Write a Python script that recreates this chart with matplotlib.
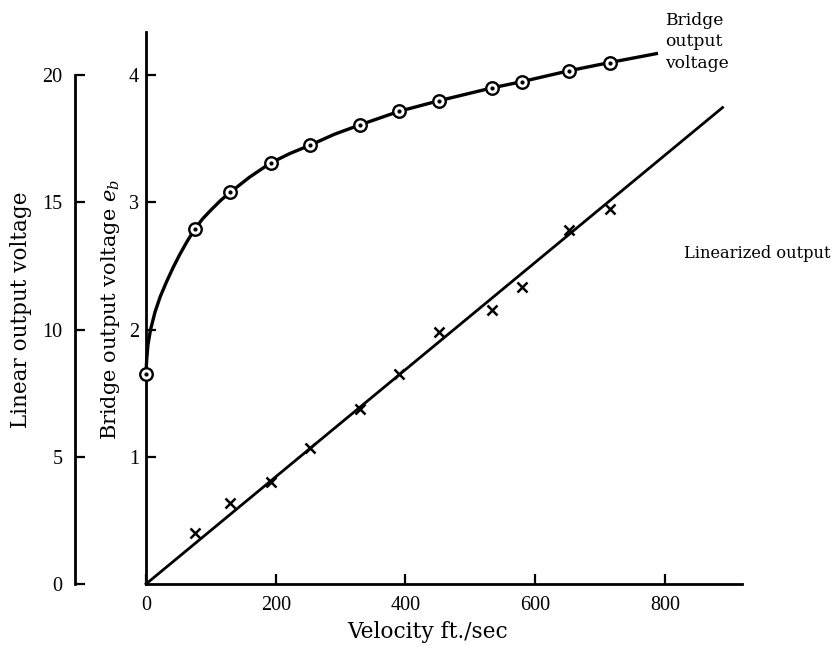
import matplotlib.pyplot as plt
import numpy as np

plt.rcParams['font.family'] = ['DejaVu Serif']
plt.rcParams['mathtext.fontset'] = 'dejavuserif'

# velocities at which the probe was read (ft/sec)
velocity = [0, 75, 130, 192, 253, 330, 390, 452, 533, 580, 652, 715]
# bridge output voltage e_b (circles)
bridge_v = [1.655, 2.79, 3.08, 3.31, 3.45, 3.61, 3.716, 3.80, 3.90, 3.95, 4.035, 4.10]

# smooth bridge curve
curve_vel = [0, 1, 3, 7, 14, 22, 32, 42, 52, 63, 75, 88, 102, 116, 130, 160, 192, 222,
             253, 290, 330, 390, 452, 533, 580, 652, 715, 787]
curve_e = [1.655, 1.76, 1.88, 2.0, 2.14, 2.26, 2.38, 2.49, 2.59, 2.69, 2.79, 2.875, 2.95,
           3.02, 3.08, 3.20, 3.31, 3.385, 3.45, 3.535, 3.61, 3.716, 3.80, 3.90, 3.95,
           4.035, 4.10, 4.17]

# linearized output (crosses), in linear output voltage units
lin_vel = [75, 130, 192, 253, 330, 390, 452, 533, 580, 652, 715]
lin_out = [1.99, 3.17, 4.02, 5.35, 6.86, 8.25, 9.91, 10.76, 11.68, 13.9, 14.76]
fit_vel = [0, 889]
fit_out = [0, 18.73]

x_ticks = [0, 200, 400, 600, 800]
bridge_ticks = [1, 2, 3, 4]
linear_ticks = [0, 5, 10, 15, 20]

fig = plt.figure(figsize=(8.36, 6.47), dpi=100)
ax = fig.add_axes([146 / 836, 63 / 647, 596 / 836, 552 / 647])
ax.set_xlim(0, 919)
ax.set_ylim(0, 4.34)

# second (linear output) scale on the far left, 5x the bridge scale
ax2 = ax.twinx()
ax2.set_ylim(0, 4.34 * 5)
ax2.yaxis.set_ticks_position('left')
ax2.yaxis.set_label_position('left')
ax2.spines['left'].set_position(('axes', -0.119))
ax2.spines['left'].set_bounds(0, 20)
for s in ['right', 'top', 'bottom']:
    ax2.spines[s].set_visible(False)
for s in ['right', 'top']:
    ax.spines[s].set_visible(False)
for sp in [ax.spines['left'], ax.spines['bottom'], ax2.spines['left']]:
    sp.set_linewidth(2.0)

ax.set_xticks(x_ticks)
ax.set_yticks(bridge_ticks)
ax2.set_yticks(linear_ticks)
tick_font = 'Liberation Serif'
ax.tick_params(axis='x', direction='in', length=7, width=1.6, pad=9, labelsize=14.5,
               labelfontfamily=tick_font)
ax.tick_params(axis='y', direction='in', length=7, width=1.6, pad=5, labelsize=14.5,
               labelfontfamily=tick_font)
ax2.tick_params(axis='y', direction='in', length=7, width=1.6, pad=9, labelsize=14.5,
                labelfontfamily=tick_font)

ax.plot(curve_vel, curve_e, color='black', lw=2.4, clip_on=False, zorder=3)
ax.plot(velocity, bridge_v, 'o', ms=9, mfc='white', mec='black', mew=1.7, clip_on=False, zorder=4)
ax.plot(velocity, bridge_v, 'o', ms=2, color='black', clip_on=False, zorder=5)

ax2.plot(fit_vel, fit_out, color='black', lw=2.0, clip_on=False, zorder=3)
ax2.plot(lin_vel, lin_out, 'x', ms=7, color='black', mew=1.8, zorder=4)

ax.set_xlabel('Velocity ft./sec', fontsize=15.6)
ax.xaxis.set_label_coords(0.473, -0.067)
ax.set_ylabel('Bridge output voltage $e_b$', fontsize=15)
ax.yaxis.set_label_coords((122 - 146) / 596, (584 - 310) / 552)
ax2.set_ylabel('Linear output voltage', fontsize=15.5)
ax2.yaxis.set_label_coords((32 - 146) / 596, (584 - 310) / 552)

fig.text(665 / 836, 1 - 42 / 647, 'Bridge\noutput\nvoltage', fontsize=12.3, ha='left', va='center',
         linespacing=1.35)
fig.text(684 / 836, 1 - 253 / 647, 'Linearized output', fontsize=11.7, ha='left', va='center')

plt.savefig('out.png', dpi=100)
